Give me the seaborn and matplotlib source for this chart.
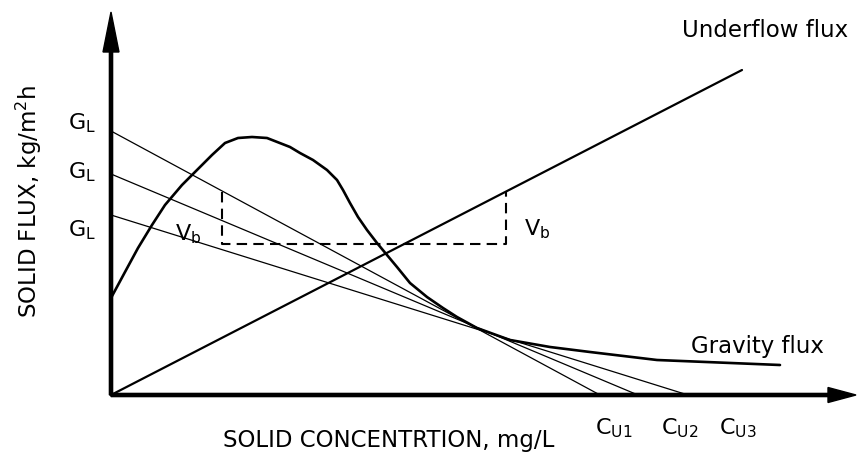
import matplotlib
matplotlib.use("Agg")
import matplotlib.pyplot as plt
import seaborn as sns
import numpy as np

# ---- data (chart units: 1 unit ~ 1 px, origin at axis corner) ----
gravity_x = [0, 14, 27, 41, 54, 71, 84, 101, 114, 127, 141, 156, 179, 189,
             202, 216, 226, 232, 239, 247, 256, 266, 276, 286, 299, 316, 332,
             346, 366, 399, 439, 479, 546, 669]
gravity_y = [97, 123, 147, 170, 190, 210, 223, 240, 252, 257, 258, 257, 248,
             242, 235, 225, 215, 205, 192, 178, 165, 152, 140, 128, 112, 98,
             87, 78, 67, 55, 48, 43, 35, 30]
underflow_x = [0, 631]
underflow_y = [0, 325]
gl_intercepts = [264, 221, 180]          # G_L values on the flux axis
cu_intercepts = [489, 527, 577]          # C_U1, C_U2, C_U3 on the concentration axis
vb_left_x = 111
vb_right_x = 395
vb_low_y = 151
vb_high_y = 203
cu_labels = ["U1", "U2", "U3"]

sns.set_style("white")
plt.rcParams["font.family"] = ["DejaVu Sans"]
plt.rcParams["text.color"] = "black"

fig = plt.figure(figsize=(8.57, 4.53), dpi=100)
ax = fig.add_axes([0, 0, 1, 1])
ax.set_xlim(-111, 746)
ax.set_ylim(-58, 395)
ax.axis("off")

# axes with arrows
ax.arrow(0, 0, 0, 383, width=3.2, head_width=16, head_length=40,
         length_includes_head=True, color="black", zorder=5)
ax.arrow(0, 0, 745, 0, width=3.2, head_width=15, head_length=28,
         length_includes_head=True, color="black", zorder=5)

# gravity flux curve
sns.lineplot(x=gravity_x, y=gravity_y, sort=False, estimator=None,
             color="black", lw=1.9, ax=ax)
# underflow flux line
sns.lineplot(x=underflow_x, y=underflow_y, sort=False, estimator=None,
             color="black", lw=1.6, ax=ax)
# G_L operating lines
for gl, cu in zip(gl_intercepts, cu_intercepts):
    sns.lineplot(x=[0, cu], y=[gl, 0], sort=False, estimator=None,
                 color="black", lw=0.9, ax=ax)

# dashed V_b construction
dash_x = [vb_left_x, vb_left_x, vb_right_x, vb_right_x]
dash_y = [vb_high_y, vb_low_y, vb_low_y, vb_high_y]
ax.plot(dash_x, dash_y, color="black", lw=1.5, linestyle=(0, (5, 3)))

fs = 16.5
tc = "black"
ax.text(-82, 194, r"SOLID FLUX, kg/m$^\mathregular{2}$h", rotation=90,
        ha="center", va="center", fontsize=fs, color=tc)
ax.text(278, -52, "SOLID CONCENTRTION, mg/L", ha="center", va="baseline",
        fontsize=fs, color=tc)
ax.text(654, 358, "Underflow flux", ha="center", va="baseline", fontsize=fs,
        color=tc)
ax.text(646, 42, "Gravity flux", ha="center", va="baseline", fontsize=fs,
        color=tc)

for gy in [272, 223, 165]:
    ax.text(-29, gy, r"$\mathregular{G_L}$", ha="center", va="center",
            fontsize=16, color=tc)
for cx, lab in zip([503, 569, 627], cu_labels):
    ax.text(cx, -33, r"$\mathregular{C_{%s}}$" % lab, ha="center", va="center",
            fontsize=16, color=tc)

ax.text(77, 161, r"$\mathregular{V_b}$", ha="center", va="center", fontsize=16,
        color=tc)
ax.text(426, 166, r"$\mathregular{V_b}$", ha="center", va="center", fontsize=16,
        color=tc)

fig.savefig("out.png", dpi=100)
